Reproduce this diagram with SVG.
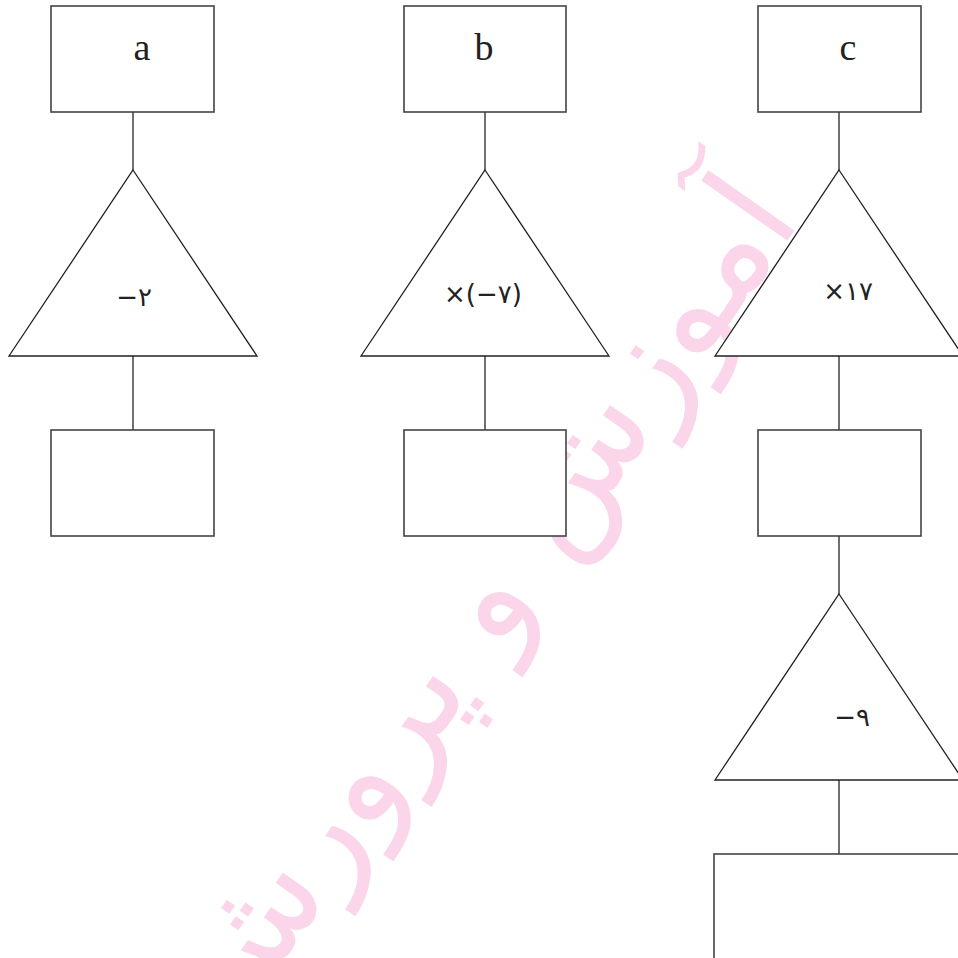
<svg xmlns="http://www.w3.org/2000/svg" width="958" height="958" viewBox="0 0 958 958">
<style>
.box{fill:#fff;stroke:#444;stroke-width:1.6}
.tri{fill:#fff;stroke:#222;stroke-width:1.3}
.ln{stroke:#222;stroke-width:1.3;fill:none}
.var{font-family:"Liberation Serif",serif;font-size:38px;fill:#222;text-anchor:middle}
.op{font-family:"DejaVu Sans",sans-serif;font-size:26px;fill:#222;text-anchor:middle}
.wm{font-family:"DejaVu Sans",sans-serif;font-size:138px;fill:#fbd5ea;text-anchor:middle}
</style>
<rect x="0" y="0" width="958" height="958" fill="#fff"/>
<text class="wm" transform="translate(518,625) rotate(-55)">آموزش و پرورش</text>
<g id="connectors">
<line class="ln" x1="133" y1="112" x2="133" y2="170"/>
<line class="ln" x1="133" y1="356" x2="133" y2="430"/>
<line class="ln" x1="485" y1="112" x2="485" y2="170"/>
<line class="ln" x1="485" y1="356" x2="485" y2="430"/>
<line class="ln" x1="839" y1="112" x2="839" y2="170"/>
<line class="ln" x1="839" y1="356" x2="839" y2="430"/>
<line class="ln" x1="839" y1="536" x2="839" y2="594"/>
<line class="ln" x1="839" y1="780" x2="839" y2="854"/>
</g>
<g id="box-a"><rect class="box" x="51" y="6" width="163" height="106"/><text class="var" x="142" y="60">a</text></g>
<g id="op-a"><polygon class="tri" points="133,170 257,356 9,356"/><text class="op" x="134" y="306">−۲</text></g>
<g id="res-a"><rect class="box" x="51" y="430" width="163" height="106"/></g>
<g id="box-b"><rect class="box" x="404" y="6" width="162" height="106"/><text class="var" x="484" y="60">b</text></g>
<g id="op-b"><polygon class="tri" points="485,170 609,356 361,356"/><text class="op" x="483" y="303">×(−۷)</text></g>
<g id="res-b"><rect class="box" x="404" y="430" width="162" height="106"/></g>
<g id="box-c"><rect class="box" x="758" y="6" width="163" height="106"/><text class="var" x="848" y="60">c</text></g>
<g id="op-c"><polygon class="tri" points="839,170 963,356 715,356"/><text class="op" x="848" y="300">×۱۷</text></g>
<g id="res-c"><rect class="box" x="758" y="430" width="163" height="106"/></g>
<g id="op-c2"><polygon class="tri" points="839,594 963,780 715,780"/><text class="op" x="852" y="726">−۹</text></g>
<g id="res-c2"><rect class="box" x="714" y="854" width="260" height="120"/></g>
</svg>
